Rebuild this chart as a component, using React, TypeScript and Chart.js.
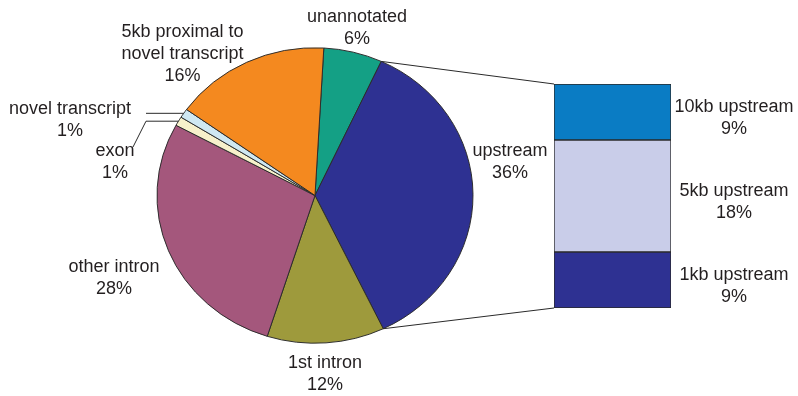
import React, { useEffect, useRef } from 'react';
import { Chart, registerables } from 'chart.js';

Chart.register(...registerables);

// ---- data ----
const sliceLabels = ['unannotated', 'upstream', '1st intron', 'other intron', 'exon', 'novel transcript', '5kb proximal to\nnovel transcript'];
const sliceValues = [6, 36, 12, 28, 1, 1, 16];
const sliceColors = ['#14a085', '#2e3192', '#9e9a3c', '#a4577c', '#f7f1cb', '#cfe8f2', '#f4891f'];

const upstreamLabels = ['1kb upstream', '5kb upstream', '10kb upstream'];
const upstreamValues = [9, 18, 9];
const upstreamColors = ['#2e3192', '#c9cde9', '#0a7cc4'];

// ---- layout / style ----
const START_ROTATION = 3.2;
const Y_SQUASH = 0.935;
const PIE_RADIUS = 158;
const FONT = '18px "Liberation Sans", Arial, Helvetica, sans-serif';
const TEXT_COLOR = '#231f20';
const LINE_COLOR = '#2a2a2a';
const LINE_H = 22;
// label centres relative to the pie centre
const labelOffsets: [number, number][] = [
  [42, -167.5],
  [195, -33.5],
  [10, 178.5],
  [-201, 82.5],
  [-200, -33],
  [-245, -75.5],
  [-132.5, -141],
];

function arcPoint(el: any, angle: number) {
  return {
    x: el.x + el.outerRadius * Math.cos(angle),
    y: el.y + Y_SQUASH * el.outerRadius * Math.sin(angle),
  };
}

const squashPlugin = {
  id: 'squash',
  beforeDatasetsDraw(chart: any) {
    const el = chart.getDatasetMeta(0).data[0];
    const ctx = chart.ctx;
    ctx.save();
    ctx.translate(el.x, el.y);
    ctx.scale(1, Y_SQUASH);
    ctx.translate(-el.x, -el.y);
  },
  afterDatasetsDraw(chart: any) {
    chart.ctx.restore();
  },
};

const pieLabelPlugin = {
  id: 'pieLabels',
  afterDraw(chart: any) {
    const ctx = chart.ctx;
    const arcs = chart.getDatasetMeta(0).data;
    const cx = arcs[0].x;
    const cy = arcs[0].y;
    ctx.save();
    ctx.font = FONT;
    ctx.fillStyle = TEXT_COLOR;
    ctx.textAlign = 'center';
    ctx.textBaseline = 'middle';
    sliceLabels.forEach((name, i) => {
      const lines = [...name.split('\n'), `${sliceValues[i]}%`];
      const [dx, dy] = labelOffsets[i];
      const x = cx + dx;
      const y0 = cy + dy - ((lines.length - 1) * LINE_H) / 2;
      lines.forEach((t, j) => ctx.fillText(t, x, y0 + j * LINE_H));
    });
    // leader lines for the two tiny slices
    ctx.strokeStyle = LINE_COLOR;
    ctx.lineWidth = 1;
    const mid = (el: any) => arcPoint(el, (el.startAngle + el.endAngle) / 2);
    const exon = mid(arcs[4]);
    ctx.beginPath();
    ctx.moveTo(cx - 182, cy - 48.5);
    ctx.lineTo(cx - 169, exon.y);
    ctx.lineTo(exon.x, exon.y);
    ctx.stroke();
    const novel = mid(arcs[5]);
    ctx.beginPath();
    ctx.moveTo(cx - 169, novel.y);
    ctx.lineTo(novel.x, novel.y);
    ctx.stroke();
    ctx.restore();
  },
};

export default function App() {
  const pieRef = useRef<HTMLCanvasElement>(null);
  const barRef = useRef<HTMLCanvasElement>(null);

  useEffect(() => {
    const pie = new Chart(pieRef.current as HTMLCanvasElement, {
      type: 'pie',
      data: {
        labels: sliceLabels,
        datasets: [
          {
            data: sliceValues,
            backgroundColor: sliceColors,
            borderColor: LINE_COLOR,
            borderWidth: 1,
          },
        ],
      },
      options: {
        responsive: false,
        animation: false,
        devicePixelRatio: 1,
        rotation: START_ROTATION,
        radius: PIE_RADIUS,
        layout: { padding: { left: 0, right: 168, top: 0, bottom: 5 } },
        plugins: { legend: { display: false }, tooltip: { enabled: false } },
      } as any,
      plugins: [squashPlugin, pieLabelPlugin],
    });

    const connectPlugin = {
      id: 'connect',
      beforeDatasetsDraw(chart: any) {
        const up = pie.getDatasetMeta(0).data[1] as any;
        const p1 = arcPoint(up, up.startAngle);
        const p2 = arcPoint(up, up.endAngle);
        const topEl = chart.getDatasetMeta(upstreamValues.length - 1).data[0];
        const botEl = chart.getDatasetMeta(0).data[0];
        const left = topEl.x - topEl.width / 2;
        const ctx = chart.ctx;
        ctx.save();
        ctx.strokeStyle = LINE_COLOR;
        ctx.lineWidth = 1;
        ctx.beginPath();
        ctx.moveTo(p1.x, p1.y);
        ctx.lineTo(left, topEl.y);
        ctx.moveTo(p2.x, p2.y);
        ctx.lineTo(left, botEl.base);
        ctx.stroke();
        ctx.restore();
      },
      afterDraw(chart: any) {
        const ctx = chart.ctx;
        ctx.save();
        ctx.font = FONT;
        ctx.fillStyle = TEXT_COLOR;
        ctx.textAlign = 'center';
        ctx.textBaseline = 'middle';
        upstreamLabels.forEach((name, i) => {
          const el = chart.getDatasetMeta(i).data[0];
          const x = chart.chartArea.right + 63;
          const yc = (el.y + el.base) / 2 + 6;
          ctx.fillText(name, x, yc - LINE_H / 2);
          ctx.fillText(`${upstreamValues[i]}%`, x, yc + LINE_H / 2);
        });
        ctx.restore();
      },
    };

    const bar = new Chart(barRef.current as HTMLCanvasElement, {
      type: 'bar',
      data: {
        labels: ['upstream'],
        datasets: upstreamLabels.map((l, i) => ({
          label: l,
          data: [upstreamValues[i]],
          backgroundColor: upstreamColors[i],
          borderColor: LINE_COLOR,
          borderWidth: 1,
          borderSkipped: false,
          barPercentage: 1,
          categoryPercentage: 1,
        })),
      },
      options: {
        responsive: false,
        animation: false,
        devicePixelRatio: 1,
        layout: { padding: { left: 554, right: 127, top: 84, bottom: 88 } },
        scales: {
          x: { display: false, stacked: true },
          y: { display: false, stacked: true, min: 0, max: upstreamValues.reduce((a, b) => a + b, 0) },
        },
        plugins: { legend: { display: false }, tooltip: { enabled: false } },
      } as any,
      plugins: [connectPlugin],
    });

    return () => {
      bar.destroy();
      pie.destroy();
    };
  }, []);

  return (
    <div style={{ position: 'fixed', left: 0, top: 0, width: 798, height: 396, background: '#ffffff' }}>
      <canvas ref={pieRef} width={798} height={396} style={{ position: 'absolute', left: 0, top: 0 }} />
      <canvas ref={barRef} width={798} height={396} style={{ position: 'absolute', left: 0, top: 0 }} />
    </div>
  );
}
